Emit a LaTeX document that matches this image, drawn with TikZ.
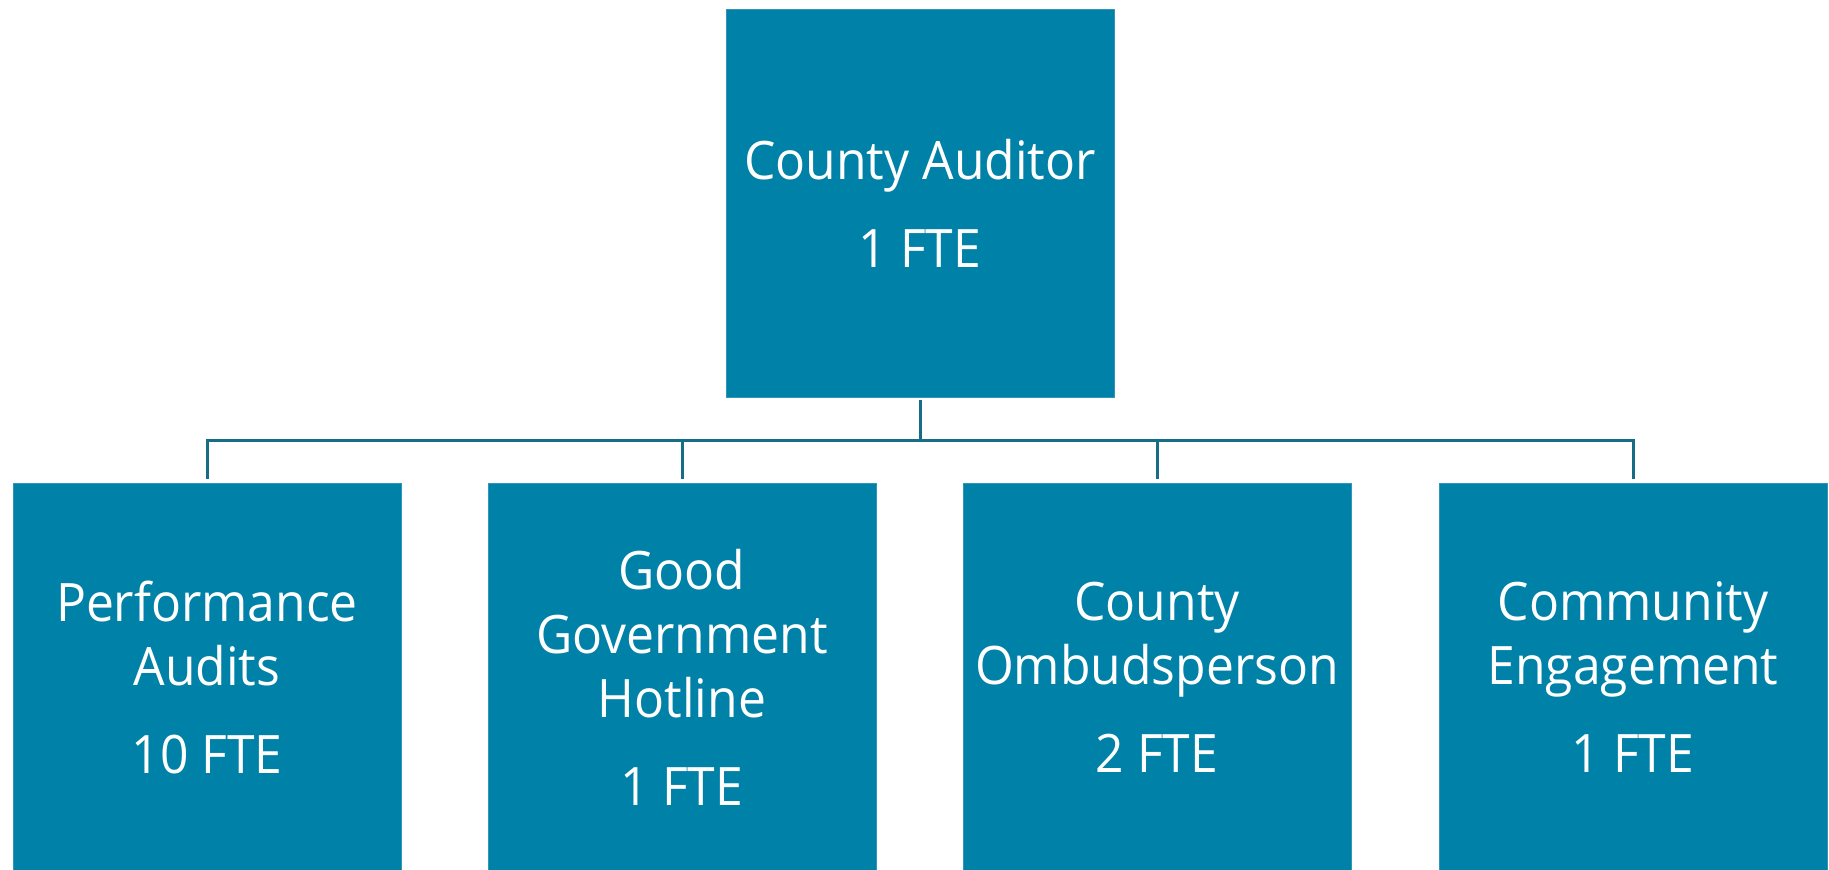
\documentclass[tikz,border=0pt]{standalone}
\usepackage{fontspec}
\setmainfont{Open Sans}[FakeStretch=0.94]
\definecolor{boxfill}{HTML}{0081A7}
\definecolor{boxedge}{HTML}{2E96B8}
\definecolor{linecol}{HTML}{176D86}
\tikzset{
  orgbox/.style={rectangle, fill=boxfill, draw=boxedge, line width=0.4pt,
    minimum width=194pt, minimum height=194pt, inner sep=0pt,
    text=white, align=center, font=\fontsize{26.5}{32}\selectfont},
  conn/.style={draw=linecol, line width=1.5pt}
}
\begin{document}
\begin{tikzpicture}[x=0.5pt,y=-0.5pt]
\useasboundingbox (0,0) rectangle (1829,869);
\node[orgbox] (top) at (920,203) {County Auditor\\[12pt]1 FTE};
\node[orgbox] (c1) at (207,677) {Performance\\Audits\\[12pt]10 FTE};
\node[orgbox] (c2) at (682,677) {Good\\Government\\Hotline\\[12pt]1 FTE};
\node[orgbox] (c3) at (1157,677) {County\\Ombudsperson\\[12pt]2 FTE};
\node[orgbox] (c4) at (1633,677) {Community\\Engagement\\[12pt]1 FTE};
\coordinate (bar) at (0,440);
\draw[conn, shorten <=1.5pt] (top.south) -- (top.south |- bar);
\foreach \c in {c1,c2,c3,c4}
  \draw[conn, shorten >=1.8pt] (top.south |- bar) -| (\c.north);
\end{tikzpicture}
\end{document}
